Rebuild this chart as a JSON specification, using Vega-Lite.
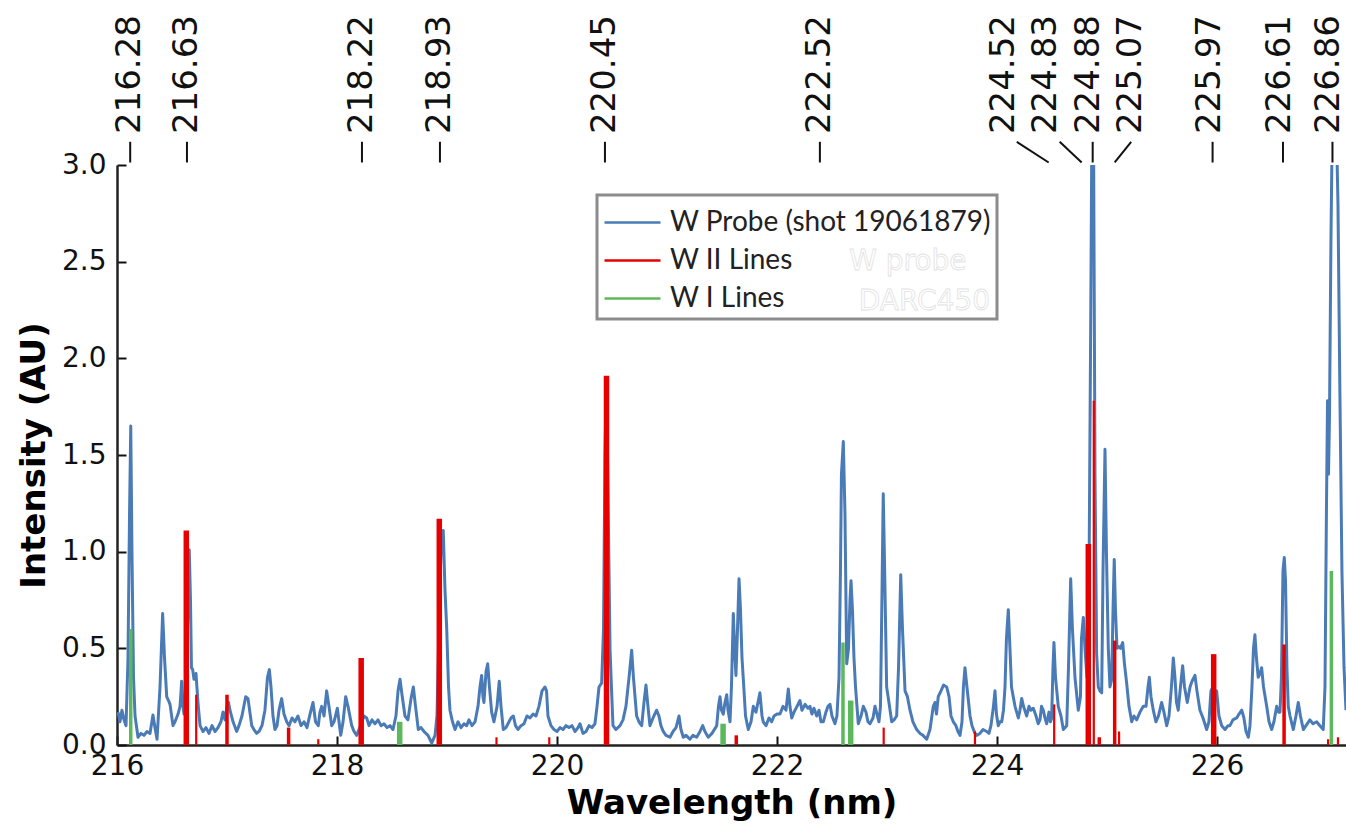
{
  "$schema": "https://vega.github.io/schema/vega-lite/v6.json",
  "width": 1229,
  "height": 580,
  "autosize": "none",
  "padding": {"left": 117, "top": 165, "right": 0, "bottom": 87},
  "background": "white",
  "config": {
    "view": {"stroke": null},
    "font": "DejaVu Sans",
    "legend": {"strokeWidth": 3}
  },
  "datasets": {
    "spectrum": [
      {"wl":216.009,"I":0.17},{"wl":216.027,"I":0.12},{"wl":216.045,"I":0.18},{"wl":216.064,"I":0.13},{"wl":216.082,"I":0.1},
      {"wl":216.1,"I":0.45},{"wl":216.114,"I":1.2},{"wl":216.125,"I":1.65},{"wl":216.136,"I":1.0},{"wl":216.15,"I":0.35},
      {"wl":216.164,"I":0.15},{"wl":216.191,"I":0.04},{"wl":216.218,"I":0.06},{"wl":216.245,"I":0.05},{"wl":216.273,"I":0.07},
      {"wl":216.3,"I":0.06},{"wl":216.327,"I":0.155},{"wl":216.345,"I":0.09},{"wl":216.364,"I":0.03},{"wl":216.391,"I":0.3},
      {"wl":216.415,"I":0.68},{"wl":216.432,"I":0.45},{"wl":216.452,"I":0.25},{"wl":216.468,"I":0.23},{"wl":216.482,"I":0.21},
      {"wl":216.509,"I":0.1},{"wl":216.527,"I":0.12},{"wl":216.555,"I":0.16},{"wl":216.573,"I":0.2},{"wl":216.588,"I":0.33},
      {"wl":216.6,"I":0.2},{"wl":216.609,"I":0.16},{"wl":216.627,"I":0.3},{"wl":216.645,"I":0.7},{"wl":216.657,"I":1.01},
      {"wl":216.668,"I":0.75},{"wl":216.677,"I":0.4},{"wl":216.688,"I":0.39},{"wl":216.7,"I":0.34},{"wl":216.718,"I":0.37},
      {"wl":216.736,"I":0.22},{"wl":216.755,"I":0.1},{"wl":216.782,"I":0.07},{"wl":216.809,"I":0.09},{"wl":216.836,"I":0.06},
      {"wl":216.864,"I":0.1},{"wl":216.891,"I":0.07},{"wl":216.918,"I":0.09},{"wl":216.945,"I":0.12},{"wl":216.964,"I":0.17},
      {"wl":216.982,"I":0.13},{"wl":217.0,"I":0.2},{"wl":217.014,"I":0.22},{"wl":217.027,"I":0.18},{"wl":217.055,"I":0.12},
      {"wl":217.088,"I":0.07},{"wl":217.109,"I":0.1},{"wl":217.136,"I":0.15},{"wl":217.17,"I":0.25},{"wl":217.191,"I":0.24},
      {"wl":217.225,"I":0.1},{"wl":217.245,"I":0.08},{"wl":217.27,"I":0.06},{"wl":217.291,"I":0.07},{"wl":217.318,"I":0.1},
      {"wl":217.345,"I":0.18},{"wl":217.368,"I":0.35},{"wl":217.385,"I":0.39},{"wl":217.4,"I":0.3},{"wl":217.418,"I":0.15},
      {"wl":217.436,"I":0.08},{"wl":217.455,"I":0.1},{"wl":217.473,"I":0.18},{"wl":217.497,"I":0.24},{"wl":217.518,"I":0.16},
      {"wl":217.543,"I":0.12},{"wl":217.564,"I":0.1},{"wl":217.591,"I":0.14},{"wl":217.618,"I":0.12},{"wl":217.645,"I":0.15},
      {"wl":217.673,"I":0.1},{"wl":217.7,"I":0.12},{"wl":217.727,"I":0.09},{"wl":217.755,"I":0.16},{"wl":217.782,"I":0.22},
      {"wl":217.805,"I":0.12},{"wl":217.83,"I":0.1},{"wl":217.845,"I":0.17},{"wl":217.861,"I":0.2},{"wl":217.882,"I":0.15},
      {"wl":217.906,"I":0.28},{"wl":217.927,"I":0.2},{"wl":217.952,"I":0.1},{"wl":217.973,"I":0.12},{"wl":218.003,"I":0.19},
      {"wl":218.034,"I":0.05},{"wl":218.055,"I":0.12},{"wl":218.079,"I":0.25},{"wl":218.1,"I":0.2},{"wl":218.134,"I":0.1},
      {"wl":218.155,"I":0.07},{"wl":218.179,"I":0.05},{"wl":218.2,"I":0.08},{"wl":218.227,"I":0.12},{"wl":218.245,"I":0.15},
      {"wl":218.27,"I":0.14},{"wl":218.291,"I":0.1},{"wl":218.318,"I":0.13},{"wl":218.345,"I":0.11},{"wl":218.373,"I":0.13},
      {"wl":218.4,"I":0.1},{"wl":218.427,"I":0.11},{"wl":218.455,"I":0.09},{"wl":218.482,"I":0.1},{"wl":218.509,"I":0.08},
      {"wl":218.536,"I":0.15},{"wl":218.555,"I":0.28},{"wl":218.573,"I":0.34},{"wl":218.591,"I":0.26},{"wl":218.618,"I":0.15},
      {"wl":218.645,"I":0.13},{"wl":218.673,"I":0.24},{"wl":218.694,"I":0.3},{"wl":218.714,"I":0.2},{"wl":218.739,"I":0.08},
      {"wl":218.764,"I":0.09},{"wl":218.791,"I":0.07},{"wl":218.827,"I":0.05},{"wl":218.861,"I":0.01},{"wl":218.891,"I":0.05},
      {"wl":218.909,"I":0.15},{"wl":218.927,"I":0.6},{"wl":218.945,"I":1.0},{"wl":218.966,"I":1.11},{"wl":218.982,"I":0.8},
      {"wl":218.997,"I":0.61},{"wl":219.014,"I":0.3},{"wl":219.027,"I":0.18},{"wl":219.05,"I":0.12},{"wl":219.073,"I":0.08},
      {"wl":219.1,"I":0.12},{"wl":219.127,"I":0.09},{"wl":219.155,"I":0.11},{"wl":219.179,"I":0.1},{"wl":219.2,"I":0.13},
      {"wl":219.227,"I":0.1},{"wl":219.255,"I":0.12},{"wl":219.282,"I":0.2},{"wl":219.3,"I":0.3},{"wl":219.315,"I":0.36},
      {"wl":219.327,"I":0.25},{"wl":219.336,"I":0.22},{"wl":219.355,"I":0.38},{"wl":219.37,"I":0.42},{"wl":219.386,"I":0.3},
      {"wl":219.406,"I":0.17},{"wl":219.427,"I":0.12},{"wl":219.455,"I":0.2},{"wl":219.475,"I":0.33},{"wl":219.491,"I":0.2},
      {"wl":219.512,"I":0.08},{"wl":219.536,"I":0.09},{"wl":219.564,"I":0.12},{"wl":219.582,"I":0.14},{"wl":219.603,"I":0.15},
      {"wl":219.623,"I":0.1},{"wl":219.645,"I":0.08},{"wl":219.673,"I":0.1},{"wl":219.7,"I":0.11},{"wl":219.727,"I":0.15},
      {"wl":219.755,"I":0.14},{"wl":219.782,"I":0.16},{"wl":219.809,"I":0.15},{"wl":219.836,"I":0.2},{"wl":219.864,"I":0.28},
      {"wl":219.891,"I":0.3},{"wl":219.905,"I":0.28},{"wl":219.918,"I":0.15},{"wl":219.945,"I":0.1},{"wl":219.973,"I":0.08},
      {"wl":220.0,"I":0.07},{"wl":220.027,"I":0.09},{"wl":220.055,"I":0.08},{"wl":220.082,"I":0.1},{"wl":220.109,"I":0.09},
      {"wl":220.136,"I":0.1},{"wl":220.164,"I":0.07},{"wl":220.191,"I":0.09},{"wl":220.209,"I":0.11},{"wl":220.236,"I":0.06},
      {"wl":220.264,"I":0.07},{"wl":220.291,"I":0.1},{"wl":220.318,"I":0.09},{"wl":220.345,"I":0.11},{"wl":220.364,"I":0.2},
      {"wl":220.382,"I":0.3},{"wl":220.406,"I":0.32},{"wl":220.423,"I":0.6},{"wl":220.436,"I":1.5},{"wl":220.45,"I":1.9},
      {"wl":220.464,"I":1.3},{"wl":220.482,"I":0.5},{"wl":220.495,"I":0.3},{"wl":220.509,"I":0.1},{"wl":220.536,"I":0.08},
      {"wl":220.573,"I":0.1},{"wl":220.6,"I":0.13},{"wl":220.627,"I":0.2},{"wl":220.655,"I":0.35},{"wl":220.679,"I":0.49},
      {"wl":220.695,"I":0.35},{"wl":220.724,"I":0.15},{"wl":220.745,"I":0.12},{"wl":220.77,"I":0.1},{"wl":220.791,"I":0.22},
      {"wl":220.809,"I":0.31},{"wl":220.827,"I":0.2},{"wl":220.845,"I":0.1},{"wl":220.873,"I":0.14},{"wl":220.906,"I":0.18},
      {"wl":220.927,"I":0.15},{"wl":220.945,"I":0.1},{"wl":220.966,"I":0.07},{"wl":220.991,"I":0.05},{"wl":221.027,"I":0.04},
      {"wl":221.055,"I":0.07},{"wl":221.082,"I":0.09},{"wl":221.109,"I":0.15},{"wl":221.127,"I":0.08},{"wl":221.148,"I":0.04},
      {"wl":221.173,"I":0.05},{"wl":221.209,"I":0.03},{"wl":221.236,"I":0.05},{"wl":221.27,"I":0.04},{"wl":221.3,"I":0.07},
      {"wl":221.325,"I":0.1},{"wl":221.345,"I":0.07},{"wl":221.375,"I":0.04},{"wl":221.409,"I":0.06},{"wl":221.452,"I":0.1},
      {"wl":221.468,"I":0.2},{"wl":221.482,"I":0.25},{"wl":221.495,"I":0.18},{"wl":221.512,"I":0.16},{"wl":221.527,"I":0.22},
      {"wl":221.543,"I":0.26},{"wl":221.555,"I":0.18},{"wl":221.573,"I":0.12},{"wl":221.586,"I":0.3},{"wl":221.603,"I":0.68},
      {"wl":221.615,"I":0.5},{"wl":221.627,"I":0.36},{"wl":221.641,"I":0.6},{"wl":221.655,"I":0.86},{"wl":221.668,"I":0.7},
      {"wl":221.682,"I":0.45},{"wl":221.694,"I":0.34},{"wl":221.714,"I":0.15},{"wl":221.739,"I":0.08},{"wl":221.764,"I":0.12},
      {"wl":221.785,"I":0.2},{"wl":221.809,"I":0.17},{"wl":221.827,"I":0.22},{"wl":221.845,"I":0.27},{"wl":221.864,"I":0.15},
      {"wl":221.875,"I":0.12},{"wl":221.9,"I":0.1},{"wl":221.927,"I":0.14},{"wl":221.952,"I":0.12},{"wl":221.973,"I":0.15},
      {"wl":222.0,"I":0.16},{"wl":222.027,"I":0.16},{"wl":222.055,"I":0.2},{"wl":222.082,"I":0.18},{"wl":222.103,"I":0.29},
      {"wl":222.118,"I":0.2},{"wl":222.134,"I":0.14},{"wl":222.155,"I":0.17},{"wl":222.182,"I":0.2},{"wl":222.209,"I":0.23},
      {"wl":222.227,"I":0.18},{"wl":222.255,"I":0.21},{"wl":222.282,"I":0.19},{"wl":222.3,"I":0.2},{"wl":222.318,"I":0.16},
      {"wl":222.336,"I":0.19},{"wl":222.361,"I":0.15},{"wl":222.382,"I":0.18},{"wl":222.4,"I":0.12},{"wl":222.421,"I":0.12},
      {"wl":222.445,"I":0.17},{"wl":222.464,"I":0.2},{"wl":222.482,"I":0.21},{"wl":222.5,"I":0.15},{"wl":222.527,"I":0.11},
      {"wl":222.545,"I":0.15},{"wl":222.564,"I":0.35},{"wl":222.577,"I":0.9},{"wl":222.586,"I":1.4},{"wl":222.603,"I":1.57},
      {"wl":222.618,"I":1.2},{"wl":222.634,"I":0.42},{"wl":222.65,"I":0.5},{"wl":222.664,"I":0.75},{"wl":222.673,"I":0.85},
      {"wl":222.686,"I":0.7},{"wl":222.7,"I":0.45},{"wl":222.714,"I":0.3},{"wl":222.739,"I":0.11},{"wl":222.764,"I":0.15},
      {"wl":222.785,"I":0.2},{"wl":222.809,"I":0.17},{"wl":222.827,"I":0.12},{"wl":222.845,"I":0.11},{"wl":222.873,"I":0.14},
      {"wl":222.891,"I":0.2},{"wl":222.909,"I":0.16},{"wl":222.927,"I":0.12},{"wl":222.941,"I":0.2},{"wl":222.955,"I":0.8},
      {"wl":222.966,"I":1.3},{"wl":222.979,"I":0.9},{"wl":222.997,"I":0.3},{"wl":223.018,"I":0.22},{"wl":223.043,"I":0.12},
      {"wl":223.064,"I":0.13},{"wl":223.088,"I":0.15},{"wl":223.105,"I":0.4},{"wl":223.125,"I":0.88},{"wl":223.141,"I":0.6},
      {"wl":223.164,"I":0.28},{"wl":223.186,"I":0.25},{"wl":223.209,"I":0.18},{"wl":223.236,"I":0.12},{"wl":223.27,"I":0.08},
      {"wl":223.3,"I":0.06},{"wl":223.327,"I":0.05},{"wl":223.361,"I":0.03},{"wl":223.391,"I":0.08},{"wl":223.421,"I":0.2},
      {"wl":223.436,"I":0.22},{"wl":223.45,"I":0.16},{"wl":223.466,"I":0.25},{"wl":223.491,"I":0.28},{"wl":223.514,"I":0.31},
      {"wl":223.543,"I":0.3},{"wl":223.564,"I":0.25},{"wl":223.582,"I":0.15},{"wl":223.603,"I":0.12},{"wl":223.627,"I":0.1},
      {"wl":223.645,"I":0.07},{"wl":223.664,"I":0.05},{"wl":223.682,"I":0.12},{"wl":223.695,"I":0.3},{"wl":223.709,"I":0.4},
      {"wl":223.727,"I":0.3},{"wl":223.755,"I":0.15},{"wl":223.773,"I":0.1},{"wl":223.8,"I":0.06},{"wl":223.818,"I":0.05},
      {"wl":223.845,"I":0.06},{"wl":223.873,"I":0.08},{"wl":223.906,"I":0.07},{"wl":223.927,"I":0.06},{"wl":223.945,"I":0.1},
      {"wl":223.968,"I":0.2},{"wl":223.982,"I":0.28},{"wl":223.995,"I":0.16},{"wl":224.012,"I":0.1},{"wl":224.027,"I":0.12},
      {"wl":224.043,"I":0.12},{"wl":224.059,"I":0.18},{"wl":224.073,"I":0.3},{"wl":224.086,"I":0.55},{"wl":224.103,"I":0.7},
      {"wl":224.118,"I":0.5},{"wl":224.132,"I":0.3},{"wl":224.148,"I":0.25},{"wl":224.164,"I":0.2},{"wl":224.194,"I":0.14},
      {"wl":224.209,"I":0.18},{"wl":224.225,"I":0.24},{"wl":224.241,"I":0.2},{"wl":224.27,"I":0.15},{"wl":224.291,"I":0.2},
      {"wl":224.309,"I":0.18},{"wl":224.33,"I":0.19},{"wl":224.355,"I":0.15},{"wl":224.375,"I":0.11},{"wl":224.391,"I":0.13},
      {"wl":224.405,"I":0.2},{"wl":224.421,"I":0.18},{"wl":224.436,"I":0.14},{"wl":224.452,"I":0.11},{"wl":224.473,"I":0.17},
      {"wl":224.486,"I":0.12},{"wl":224.497,"I":0.14},{"wl":224.509,"I":0.4},{"wl":224.518,"I":0.53},{"wl":224.532,"I":0.35},
      {"wl":224.557,"I":0.2},{"wl":224.582,"I":0.15},{"wl":224.603,"I":0.08},{"wl":224.634,"I":0.1},{"wl":224.65,"I":0.4},
      {"wl":224.67,"I":0.86},{"wl":224.686,"I":0.6},{"wl":224.709,"I":0.35},{"wl":224.739,"I":0.18},{"wl":224.759,"I":0.25},
      {"wl":224.768,"I":0.55},{"wl":224.785,"I":0.66},{"wl":224.8,"I":0.5},{"wl":224.818,"I":0.35},{"wl":224.836,"I":0.8},
      {"wl":224.85,"I":2.0},{"wl":224.864,"I":3.3},{"wl":224.877,"I":3.3},{"wl":224.891,"I":1.4},{"wl":224.906,"I":0.47},
      {"wl":224.921,"I":0.3},{"wl":224.936,"I":0.28},{"wl":224.952,"I":0.27},{"wl":224.964,"I":0.9},{"wl":224.982,"I":1.53},
      {"wl":224.995,"I":1.0},{"wl":225.012,"I":0.5},{"wl":225.027,"I":0.3},{"wl":225.043,"I":0.34},{"wl":225.055,"I":0.7},
      {"wl":225.066,"I":0.96},{"wl":225.077,"I":0.7},{"wl":225.091,"I":0.5},{"wl":225.103,"I":0.51},{"wl":225.123,"I":0.5},
      {"wl":225.143,"I":0.53},{"wl":225.159,"I":0.42},{"wl":225.179,"I":0.32},{"wl":225.2,"I":0.2},{"wl":225.225,"I":0.12},
      {"wl":225.245,"I":0.15},{"wl":225.27,"I":0.13},{"wl":225.3,"I":0.17},{"wl":225.33,"I":0.2},{"wl":225.355,"I":0.2},
      {"wl":225.373,"I":0.3},{"wl":225.385,"I":0.35},{"wl":225.4,"I":0.25},{"wl":225.421,"I":0.18},{"wl":225.445,"I":0.12},
      {"wl":225.468,"I":0.15},{"wl":225.497,"I":0.22},{"wl":225.518,"I":0.17},{"wl":225.543,"I":0.1},{"wl":225.564,"I":0.15},
      {"wl":225.586,"I":0.3},{"wl":225.603,"I":0.45},{"wl":225.618,"I":0.35},{"wl":225.632,"I":0.22},{"wl":225.648,"I":0.18},
      {"wl":225.668,"I":0.3},{"wl":225.688,"I":0.41},{"wl":225.705,"I":0.3},{"wl":225.73,"I":0.22},{"wl":225.755,"I":0.3},
      {"wl":225.773,"I":0.33},{"wl":225.8,"I":0.36},{"wl":225.818,"I":0.28},{"wl":225.845,"I":0.18},{"wl":225.873,"I":0.14},
      {"wl":225.906,"I":0.08},{"wl":225.927,"I":0.12},{"wl":225.945,"I":0.28},{"wl":225.964,"I":0.3},{"wl":225.982,"I":0.25},
      {"wl":225.997,"I":0.28},{"wl":226.018,"I":0.15},{"wl":226.043,"I":0.1},{"wl":226.073,"I":0.08},{"wl":226.1,"I":0.1},
      {"wl":226.118,"I":0.1},{"wl":226.145,"I":0.13},{"wl":226.179,"I":0.14},{"wl":226.2,"I":0.16},{"wl":226.225,"I":0.18},
      {"wl":226.245,"I":0.14},{"wl":226.264,"I":0.07},{"wl":226.285,"I":0.04},{"wl":226.3,"I":0.1},{"wl":226.318,"I":0.3},
      {"wl":226.332,"I":0.5},{"wl":226.345,"I":0.57},{"wl":226.359,"I":0.45},{"wl":226.375,"I":0.35},{"wl":226.391,"I":0.37},
      {"wl":226.406,"I":0.4},{"wl":226.423,"I":0.3},{"wl":226.452,"I":0.2},{"wl":226.473,"I":0.12},{"wl":226.497,"I":0.08},
      {"wl":226.518,"I":0.12},{"wl":226.543,"I":0.2},{"wl":226.559,"I":0.17},{"wl":226.573,"I":0.17},{"wl":226.586,"I":0.35},
      {"wl":226.6,"I":0.9},{"wl":226.612,"I":0.97},{"wl":226.623,"I":0.85},{"wl":226.636,"I":0.4},{"wl":226.648,"I":0.2},
      {"wl":226.664,"I":0.15},{"wl":226.694,"I":0.08},{"wl":226.718,"I":0.15},{"wl":226.739,"I":0.22},{"wl":226.759,"I":0.15},
      {"wl":226.785,"I":0.08},{"wl":226.809,"I":0.1},{"wl":226.845,"I":0.13},{"wl":226.873,"I":0.11},{"wl":226.906,"I":0.12},
      {"wl":226.936,"I":0.1},{"wl":226.966,"I":0.08},{"wl":226.982,"I":0.3},{"wl":226.995,"I":1.2},{"wl":227.005,"I":1.78},
      {"wl":227.014,"I":1.4},{"wl":227.023,"I":1.7},{"wl":227.036,"I":2.6},{"wl":227.05,"I":3.3},{"wl":227.082,"I":3.3},
      {"wl":227.1,"I":2.8},{"wl":227.118,"I":1.8},{"wl":227.136,"I":0.9},{"wl":227.155,"I":0.4},{"wl":227.173,"I":0.18}
    ],
    "lines": [
      {"wl":216.125,"I":0.6,"ion":"W I Lines","strength":"medium"},
      {"wl":216.63,"I":1.11,"ion":"W II Lines","strength":"strong"},
      {"wl":216.72,"I":0.26,"ion":"W II Lines","strength":"weak"},
      {"wl":217.0,"I":0.26,"ion":"W II Lines","strength":"medium"},
      {"wl":217.56,"I":0.09,"ion":"W II Lines","strength":"medium"},
      {"wl":217.83,"I":0.03,"ion":"W II Lines","strength":"weak"},
      {"wl":218.22,"I":0.45,"ion":"W II Lines","strength":"strong"},
      {"wl":218.57,"I":0.12,"ion":"W I Lines","strength":"strong"},
      {"wl":218.93,"I":1.17,"ion":"W II Lines","strength":"strong"},
      {"wl":219.45,"I":0.04,"ion":"W II Lines","strength":"weak"},
      {"wl":219.93,"I":0.04,"ion":"W II Lines","strength":"weak"},
      {"wl":220.45,"I":1.91,"ion":"W II Lines","strength":"strong"},
      {"wl":221.51,"I":0.11,"ion":"W I Lines","strength":"strong"},
      {"wl":221.63,"I":0.05,"ion":"W II Lines","strength":"medium"},
      {"wl":222.6,"I":0.53,"ion":"W I Lines","strength":"medium"},
      {"wl":222.67,"I":0.23,"ion":"W I Lines","strength":"strong"},
      {"wl":222.97,"I":0.09,"ion":"W II Lines","strength":"weak"},
      {"wl":223.8,"I":0.07,"ion":"W II Lines","strength":"weak"},
      {"wl":224.52,"I":0.21,"ion":"W II Lines","strength":"weak"},
      {"wl":224.83,"I":1.04,"ion":"W II Lines","strength":"strong"},
      {"wl":224.88,"I":1.78,"ion":"W II Lines","strength":"weak"},
      {"wl":224.93,"I":0.04,"ion":"W II Lines","strength":"medium"},
      {"wl":225.07,"I":0.54,"ion":"W II Lines","strength":"medium"},
      {"wl":225.11,"I":0.07,"ion":"W II Lines","strength":"weak"},
      {"wl":225.97,"I":0.47,"ion":"W II Lines","strength":"strong"},
      {"wl":226.61,"I":0.52,"ion":"W II Lines","strength":"medium"},
      {"wl":227.01,"I":0.03,"ion":"W II Lines","strength":"weak"},
      {"wl":227.04,"I":0.9,"ion":"W I Lines","strength":"medium"},
      {"wl":227.1,"I":0.04,"ion":"W II Lines","strength":"weak"}
    ],
    "marked": [
      {"label":"216.28","tick":216.12,"lead":216.12,"pos":216.12},
      {"label":"216.63","tick":216.636,"lead":216.636,"pos":216.636},
      {"label":"218.22","tick":218.227,"lead":218.227,"pos":218.227},
      {"label":"218.93","tick":218.936,"lead":218.936,"pos":218.936},
      {"label":"220.45","tick":220.436,"lead":220.436,"pos":220.436},
      {"label":"222.52","tick":222.39,"lead":222.39,"pos":222.39},
      {"label":"224.52","tick":224.47,"lead":224.18,"pos":224.06},
      {"label":"224.83","tick":224.77,"lead":224.57,"pos":224.45},
      {"label":"224.88","tick":224.87,"lead":224.87,"pos":224.84},
      {"label":"225.07","tick":225.07,"lead":225.22,"pos":225.22},
      {"label":"225.97","tick":225.96,"lead":225.96,"pos":225.94},
      {"label":"226.61","tick":226.6,"lead":226.6,"pos":226.57},
      {"label":"226.86","tick":227.05,"lead":227.05,"pos":227.02}
    ],
    "ghost": [
      {"text":"W probe","wl":223.19,"I":2.5},
      {"text":"DARC450","wl":223.34,"I":2.29}
    ]
  },
  "layer": [
    {
      "data": {"name": "ghost"},
      "mark": {"type": "text", "font": "DejaVu Sans", "fontSize": 28, "fill": "white", "stroke": "#e2e2e2", "strokeWidth": 0.8, "align": "center", "baseline": "middle"},
      "encoding": {
        "x": {"field": "wl", "type": "quantitative", "title": "Wavelength (nm)"},
        "y": {"field": "I", "type": "quantitative", "title": "Intensity (AU)"},
        "text": {"field": "text"}
      }
    },
    {
      "data": {"name": "spectrum"},
      "mark": {"type": "line", "clip": true, "strokeWidth": 3, "strokeJoin": "round"},
      "encoding": {
        "x": {
          "field": "wl", "type": "quantitative",
          "scale": {"domain": [216, 227.173], "nice": false, "zero": false},
          "axis": {
            "values": [216, 218, 220, 222, 224, 226], "format": "d",
            "labelFont": "DejaVu Sans", "labelFontSize": 28, "labelColor": "#111",
            "labelPadding": 16, "labelOverlap": false, "labelFlush": false,
            "tickSize": -9, "tickWidth": 2, "tickColor": "#111",
            "domainColor": "#222", "domainWidth": 2.5, "grid": false,
            "title": "Wavelength (nm)", "titleFont": "DejaVu Sans", "titleFontSize": 34,
            "titleFontWeight": "bold", "titleColor": "#000", "titlePadding": 6
          }
        },
        "y": {
          "field": "I", "type": "quantitative",
          "scale": {"domain": [0, 3], "nice": false},
          "axis": {
            "values": [0, 0.5, 1, 1.5, 2, 2.5, 3], "format": ".1f",
            "labelFont": "DejaVu Sans", "labelFontSize": 28, "labelColor": "#111",
            "labelPadding": 20, "labelOverlap": false, "labelFlush": false,
            "tickSize": -9, "tickWidth": 2, "tickColor": "#111",
            "domainColor": "#222", "domainWidth": 2.5, "grid": false,
            "title": "Intensity (AU)", "titleFont": "DejaVu Sans", "titleFontSize": 34,
            "titleFontWeight": "bold", "titleColor": "#000", "titlePadding": 10
          }
        },
        "color": {
          "datum": "W Probe (shot 19061879)",
          "title": null,
          "scale": {
            "domain": ["W Probe (shot 19061879)", "W II Lines", "W I Lines"],
            "range": ["#4a7bb7", "#e60000", "#5cb85c"]
          },
          "legend": {
            "orient": "none", "legendX": 480, "legendY": 30, "title": null,
            "labelFont": "Lato", "labelFontSize": 28, "labelColor": "#222", "labelLimit": 600,
            "symbolType": "M-1.4,0H1.4", "symbolSize": 1600, "symbolStrokeWidth": 2.5,
            "symbolOffset": 8, "labelOffset": 16, "rowPadding": 2,
            "strokeColor": "#8c8c8c", "padding": 6
          }
        }
      }
    },
    {
      "data": {"name": "lines"},
      "transform": [{"filter": "datum.strength == 'strong'"}],
      "mark": {"type": "rule", "strokeWidth": 5.5},
      "encoding": {
        "x": {"field": "wl", "type": "quantitative", "title": "Wavelength (nm)"},
        "y": {"field": "I", "type": "quantitative", "title": "Intensity (AU)"},
        "y2": {"datum": 0},
        "color": {"field": "ion", "type": "nominal", "title": null}
      }
    },
    {
      "data": {"name": "lines"},
      "transform": [{"filter": "datum.strength == 'medium'"}],
      "mark": {"type": "rule", "strokeWidth": 3.5},
      "encoding": {
        "x": {"field": "wl", "type": "quantitative", "title": "Wavelength (nm)"},
        "y": {"field": "I", "type": "quantitative", "title": "Intensity (AU)"},
        "y2": {"datum": 0},
        "color": {"field": "ion", "type": "nominal", "title": null}
      }
    },
    {
      "data": {"name": "lines"},
      "transform": [{"filter": "datum.strength == 'weak'"}],
      "mark": {"type": "rule", "strokeWidth": 2.2},
      "encoding": {
        "x": {"field": "wl", "type": "quantitative", "title": "Wavelength (nm)"},
        "y": {"field": "I", "type": "quantitative", "title": "Intensity (AU)"},
        "y2": {"datum": 0},
        "color": {"field": "ion", "type": "nominal", "title": null}
      }
    },
    {
      "mark": {"type": "rule", "color": "#222", "strokeWidth": 2.5},
      "encoding": {"y": {"datum": 3, "type": "quantitative", "title": "Intensity (AU)"}}
    },
    {
      "data": {"name": "marked"},
      "mark": {"type": "rule", "color": "#111", "strokeWidth": 2},
      "encoding": {
        "x": {"field": "lead", "type": "quantitative", "title": "Wavelength (nm)"},
        "x2": {"field": "tick"},
        "y": {"datum": 3.12, "type": "quantitative", "title": "Intensity (AU)"},
        "y2": {"datum": 3.013}
      }
    },
    {
      "data": {"name": "marked"},
      "mark": {"type": "text", "angle": 270, "align": "left", "baseline": "middle", "font": "DejaVu Sans", "fontSize": 34, "color": "#111"},
      "encoding": {
        "x": {"field": "pos", "type": "quantitative", "title": "Wavelength (nm)"},
        "y": {"datum": 3.16, "type": "quantitative", "title": "Intensity (AU)"},
        "text": {"field": "label"}
      }
    }
  ]
}
